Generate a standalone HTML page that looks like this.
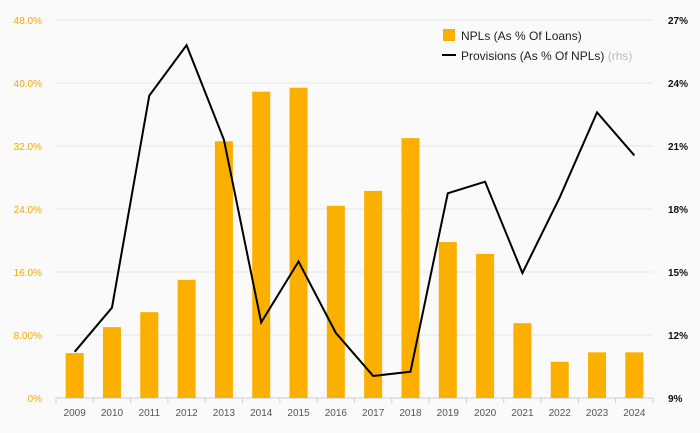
<!DOCTYPE html>
<html><head><meta charset="utf-8"><style>
body{margin:0;background:#fafafa;}
svg{display:block;font-family:"Liberation Sans",sans-serif;}
</style></head><body>
<svg id="chart" width="700" height="433"></svg>
<script>
const years=["2009","2010","2011","2012","2013","2014","2015","2016","2017","2018","2019","2020","2021","2022","2023","2024"];
const npls=[5.7,9.0,10.9,15.0,32.6,38.9,39.4,24.4,26.3,33.0,19.8,18.3,9.5,4.6,5.8,5.8];
const provisions=[11.2,13.3,23.4,25.8,21.3,12.6,15.5,12.1,10.05,10.25,18.75,19.3,14.95,18.55,22.6,20.55];
const leftTicks=["0%","8.00%","16.0%","24.0%","32.0%","40.0%","48.0%"];
const leftVals=[0,8,16,24,32,40,48];
const rightVals=[9,12,15,18,21,24,27];
const NS="http://www.w3.org/2000/svg";
const svg=document.getElementById('chart');
const topY=20,botY=398,x0=56,x1=653;
const yL=v=>botY-(v/48)*(botY-topY);
const yR=v=>botY-((v-9)/18)*(botY-topY);
const step=(x1-x0)/years.length;
const xC=i=>x0+step*(i+0.5);
function mk(t,a,p){const e=document.createElementNS(NS,t);for(const k in a)e.setAttribute(k,a[k]);(p||svg).appendChild(e);return e;}
leftVals.forEach((v,i)=>{
 const g=mk('line',{x1:x0,x2:x1,y1:yL(v),y2:yL(v),stroke:i==0?'#ccc':'#e6e6e6','stroke-width':1});
 
 
 const t=mk('text',{x:42,y:yL(v)+4,'text-anchor':'end','font-size':10,fill:'#f5a800'});t.textContent=leftTicks[i];
 
 
});
rightVals.forEach(v=>{
 const t=mk('text',{x:668,y:yR(v)+4,'font-size':10,fill:'#111','font-weight':'bold'});t.textContent=v+'%';
 
 
});
years.forEach((y,i)=>{
 mk('line',{x1:x0+step*i,x2:x0+step*i,y1:botY,y2:botY+5,stroke:'#ccc'});
 const t=mk('text',{x:xC(i),y:416,'text-anchor':'middle','font-size':10,fill:'#555'});t.textContent=y;
 
 
 const b=mk('rect',{x:xC(i)-9,y:yL(npls[i]),width:18,height:botY-yL(npls[i]),fill:'#fbb000'});
 
 
});
mk('line',{x1:x1,x2:x1,y1:botY,y2:botY+5,stroke:'#ccc'});
const pl=mk('polyline',{points:provisions.map((v,i)=>xC(i)+','+yR(v)).join(' '),fill:'none',stroke:'#000','stroke-width':2,'stroke-linejoin':'miter'});


const lg=mk('g',{});


mk('rect',{x:443,y:29,width:12,height:12,fill:'#fbb000'},lg);
let t1=mk('text',{x:461,y:40,'font-size':12,fill:'#222'},lg);t1.textContent='NPLs (As % Of Loans)';
mk('line',{x1:442,x2:456,y1:55,y2:55,stroke:'#000','stroke-width':2},lg);
let t2=mk('text',{x:461,y:60,'font-size':12,fill:'#222'},lg);t2.innerHTML='Provisions (As % Of NPLs) <tspan fill="#bbb">(rhs)</tspan>';
</script>
</body></html>
